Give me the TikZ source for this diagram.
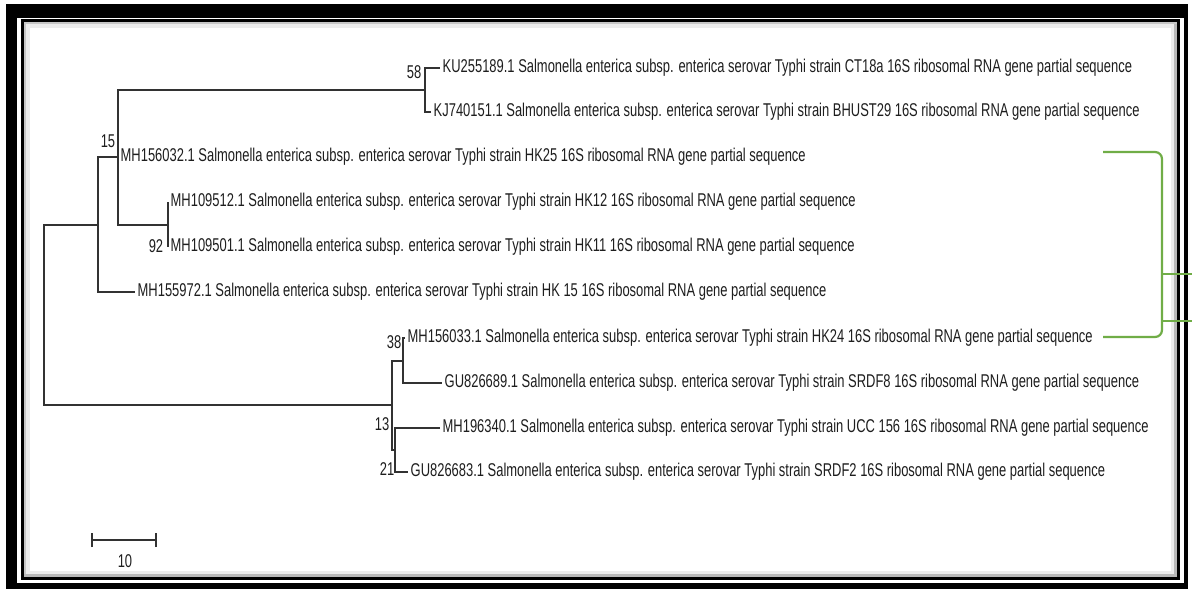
\documentclass[tikz,border=0pt]{standalone}
\usepackage{fontspec}
\newfontfamily\narrowsans[FakeStretch=0.70]{Liberation Sans}
\usepackage{tikz}
\usetikzlibrary{positioning, calc}
\usepackage{xcolor}
\definecolor{branchgray}{RGB}{50,50,50}
\definecolor{textgray}{RGB}{30,30,30}
\definecolor{bracketgreen}{RGB}{112,173,71}
\tikzstyle{branch} = [draw=branchgray, line width=2pt]
\tikzstyle{bracket} = [draw=bracketgreen, line width=2.2pt]

\begin{document}
\begin{tikzpicture}[x=1pt, y=-1pt,
  leaf/.style={anchor=west, inner xsep=2.5pt, inner ysep=0pt, text=textgray, font=\narrowsans\fontsize{18.5}{21}\selectfont},
  boot/.style={inner sep=0pt, text=textgray, font=\narrowsans\fontsize{18.5}{21}\selectfont}]

  \useasboundingbox (0,0) rectangle (1192,589);
  \fill[black] (6,4) rectangle (1188,589);
  \fill[white] (17,17.5) rectangle (1184,583);
  \draw[black, line width=3pt] (22.5,20.5) rectangle (1178.5,578.5);
  \draw[gray!45, line width=2pt] (25,23) rectangle (1176,576);
  \draw[gray!15, line width=4pt] (28,26) rectangle (1173,573);
  \draw[gray!55, line width=3pt] (1175.5,24) -- (1175.5,575.5) -- (24,575.5);

  \node[leaf] (ku255) at (440, 68) {KU255189.1 Salmonella enterica subsp. enterica serovar Typhi strain CT18a 16S ribosomal RNA gene partial sequence};
  \node[leaf] (kj740) at (431, 112) {KJ740151.1 Salmonella enterica subsp. enterica serovar Typhi strain BHUST29 16S ribosomal RNA gene partial sequence};
  \node[leaf] (mh032) at (118, 157) {MH156032.1 Salmonella enterica subsp. enterica serovar Typhi strain HK25 16S ribosomal RNA gene partial sequence};
  \node[leaf] (mh512) at (168, 202) {MH109512.1 Salmonella enterica subsp. enterica serovar Typhi strain HK12 16S ribosomal RNA gene partial sequence};
  \node[leaf] (mh501) at (168, 247) {MH109501.1 Salmonella enterica subsp. enterica serovar Typhi strain HK11 16S ribosomal RNA gene partial sequence};
  \node[leaf] (mh972) at (135, 292) {MH155972.1 Salmonella enterica subsp. enterica serovar Typhi strain HK 15 16S ribosomal RNA gene partial sequence};
  \node[leaf] (mh033) at (405, 338) {MH156033.1 Salmonella enterica subsp. enterica serovar Typhi strain HK24 16S ribosomal RNA gene partial sequence};
  \node[leaf] (gu689) at (442, 383) {GU826689.1 Salmonella enterica subsp. enterica serovar Typhi strain SRDF8 16S ribosomal RNA gene partial sequence};
  \node[leaf] (mh340) at (440, 428) {MH196340.1 Salmonella enterica subsp. enterica serovar Typhi strain UCC 156 16S ribosomal RNA gene partial sequence};
  \node[leaf] (gu683) at (408, 472) {GU826683.1 Salmonella enterica subsp. enterica serovar Typhi strain SRDF2 16S ribosomal RNA gene partial sequence};

  \coordinate (root) at (44, 314.75);
  \coordinate (nP) at (98, 224.5);
  \coordinate (n15) at (118, 157);
  \coordinate (n58) at (425, 90);
  \coordinate (n92) at (168, 224.5);
  \coordinate (nA) at (392, 405);
  \coordinate (n38) at (403, 360.5);
  \coordinate (nB) at (395, 450);

  \draw[branch] (root) |- (nP);
  \draw[branch] (root) |- (nA);
  \draw[branch] (nP) |- (n15);
  \draw[branch] (nP) |- (mh972.west);
  \draw[branch] (n15) |- (n58);
  \draw[branch] (n15) |- (mh032.west);
  \draw[branch] (n15) |- (n92);
  \draw[branch] (n58) |- (ku255.west);
  \draw[branch] (n58) |- (kj740.west);
  \draw[branch] (n92) |- (mh512.west);
  \draw[branch] (n92) |- (mh501.west);
  \draw[branch] (nA) |- (n38);
  \draw[branch] (nA) |- (nB);
  \draw[branch] (n38) |- (mh033.west);
  \draw[branch] (n38) |- (gu689.west);
  \draw[branch] (nB) |- (mh340.west);
  \draw[branch] (nB) |- (gu683.west);

  \node[boot] (b58) at (414, 72) {58};
  \node[boot] (b15) at (108, 141) {15};
  \node[boot] (b92) at (156, 246) {92};
  \node[boot] (b38) at (394, 342) {38};
  \node[boot] (b13) at (382, 424) {13};
  \node[boot] (b21) at (387, 469) {21};

  \coordinate (sbl) at (92, 540);
  \coordinate (sbr) at (156, 540);
  \draw[branch] (sbl) -- (sbr);
  \draw[branch] ([yshift=-7pt]sbl) -- ([yshift=7pt]sbl);
  \draw[branch] ([yshift=-7pt]sbr) -- ([yshift=7pt]sbr);
  \node[boot] (sbtext) at (125, 561) {10};

  \coordinate (brtop) at (1103, 152);
  \coordinate (brtopr) at (1162, 152);
  \coordinate (brbotr) at (1162, 337);
  \coordinate (brbot) at (1103, 337);
  \coordinate (tickup) at (1192, 274);
  \coordinate (tickdn) at (1192, 321);
  \draw[bracket, rounded corners=7pt] (brtop) -- (brtopr) -- (brbotr) -- (brbot);
  \draw[bracket] (tickup) -- (tickup -| brtopr);
  \draw[bracket] (tickdn) -- (tickdn -| brtopr);
\end{tikzpicture}
\end{document}
